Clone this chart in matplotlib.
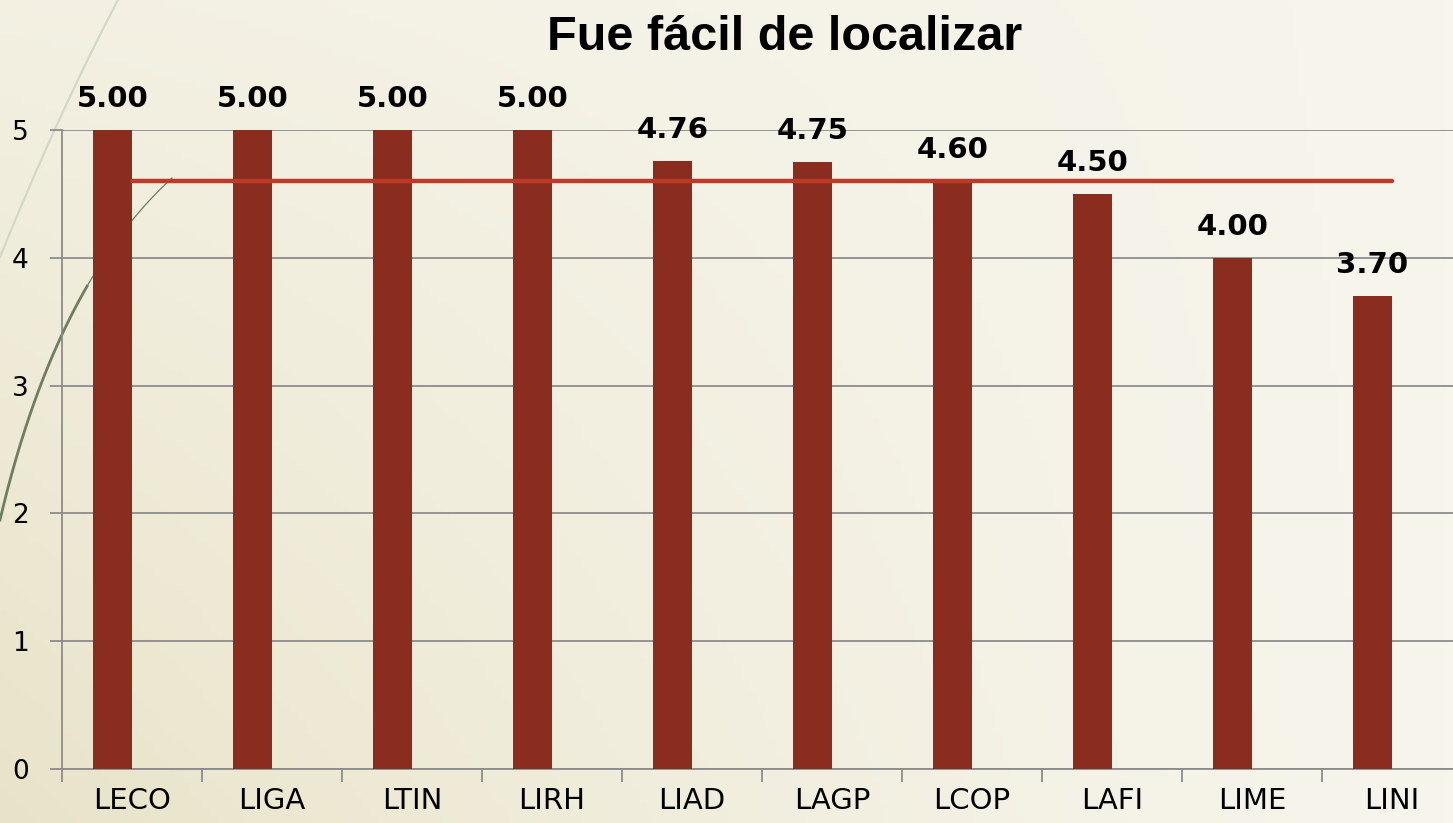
import numpy as np
import matplotlib
matplotlib.use("Agg")
import matplotlib.pyplot as plt
from matplotlib.lines import Line2D

categories = ["LECO", "LIGA", "LTIN", "LIRH", "LIAD", "LAGP", "LCOP", "LAFI", "LIME", "LINI"]
values = [5.00, 5.00, 5.00, 5.00, 4.76, 4.75, 4.60, 4.50, 4.00, 3.70]
value_labels = ["5.00", "5.00", "5.00", "5.00", "4.76", "4.75", "4.60", "4.50", "4.00", "3.70"]
average_value = 4.6
y_ticks = [0, 1, 2, 3, 4, 5]
title = "Fue fácil de localizar"

W, H = 1453, 823
fig = plt.figure(figsize=(W / 100, H / 100), dpi=100)

# background gradient
bg = fig.add_axes([0, 0, 1, 1], zorder=-10)
xx = np.linspace(0, 1, 200)
yy = np.linspace(0, 1, 120)
X, Y = np.meshgrid(xx, yy)
t = np.clip(0.75 * (1 - X) ** 1.5 * (1 - Y) + 0.25 * (1 - X), 0, 1)
c1 = np.array([0xF7, 0xF5, 0xEC]) / 255
c2 = np.array([0xE8, 0xE3, 0xC8]) / 255
img = c1[None, None, :] * (1 - t[..., None]) + c2[None, None, :] * t[..., None]
bg.imshow(img, aspect="auto", extent=[0, 1, 0, 1], origin="lower")
bg.set_axis_off()

# decorative curves (slide background)
def bez(p0, p1, p2, n=60):
    s = np.linspace(0, 1, n)
    xs = (1 - s) ** 2 * p0[0] + 2 * (1 - s) * s * p1[0] + s ** 2 * p2[0]
    ys = (1 - s) ** 2 * p0[1] + 2 * (1 - s) * s * p1[1] + s ** 2 * p2[1]
    return xs / W, 1 - ys / H

lx, ly = bez((118, 0), (60, 110), (0, 257))
fig.add_artist(Line2D(lx, ly, color="#D6D8C6", lw=1.6, zorder=-5))
dx, dy = bez((172, 178), (55, 285), (0, 520))
fig.add_artist(Line2D(dx[:25], dy[:25], color="#6F7E5C", lw=0.9, zorder=-5))
fig.add_artist(Line2D(dx[24:], dy[24:], color="#6F7E5C", lw=2.0, zorder=-5))

x0, x1 = 62, 1462
y0, y1 = 769, 130
ax = fig.add_axes([x0 / W, 1 - y0 / H, (x1 - x0) / W, (y0 - y1) / H])
ax.patch.set_alpha(0)

x = np.arange(len(categories))
bw = 0.28
ax.bar(x - bw / 2, values, width=bw, color="#8A2C1E", zorder=3)
ax.hlines(average_value, 0, len(categories) - 1, color="#BE3A28", lw=3.2, zorder=4,
          capstyle="round")

for xi, v, lab in zip(x, values, value_labels):
    ax.annotate(lab, (xi - bw / 2, v), xytext=(0, 12), textcoords="offset points",
                ha="center", va="bottom", fontsize=21, fontweight="bold",
                color="black", family="DejaVu Sans")

ax.set_xlim(-0.5, len(categories) - 0.5)
ax.set_ylim(0, 5)
ax.set_yticks(y_ticks)
ax.set_yticklabels([str(v) for v in y_ticks], fontsize=19)
ax.set_xticks(x)
ax.set_xticklabels(categories, fontsize=21)
ax.set_xticks(np.arange(len(categories)) - 0.5, minor=True)
ax.tick_params(axis="x", which="major", length=0, pad=13)
ax.tick_params(axis="x", which="minor", length=9, color="#8C8C8C", width=1.3)
ax.tick_params(axis="y", length=9, color="#8C8C8C", width=1.3, pad=15)
ax.yaxis.grid(True, color="#8C8C8C", lw=1.3, zorder=0)
ax.set_axisbelow(True)
for s in ["top", "right"]:
    ax.spines[s].set_visible(False)
for s in ["left", "bottom"]:
    ax.spines[s].set_color("#8C8C8C")
    ax.spines[s].set_linewidth(1.3)

fig.text(785 / W, 1 - 37 / H, title, ha="center", va="center", fontsize=35,
         fontweight="bold", family="Liberation Sans")

fig.savefig("out.png", dpi=100)
